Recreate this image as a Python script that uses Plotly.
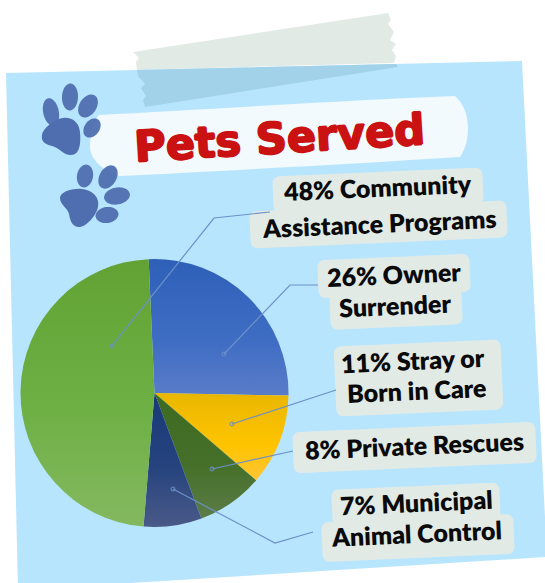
import math
import plotly.graph_objects as go

W, H = 545, 583

categories = ["Owner Surrender", "Stray or Born in Care", "Private Rescues",
              "Municipal Animal Control", "Community Assistance Programs"]
values = [26, 11, 8, 7, 48]
slice_colors = ["#4470c2", "#f7c000", "#4a7029", "#2f4a80", "#6fae45"]
slice_gradients = [
    [("0%", "#2e60b8"), ("60%", "#3f6dc4"), ("100%", "#5a7cc8")],
    [("0%", "#e9b600"), ("60%", "#ffc400"), ("100%", "#ffc535")],
    [("0%", "#3d6a20"), ("60%", "#46702a"), ("100%", "#5c7c48")],
    [("0%", "#183a78"), ("55%", "#26437e"), ("100%", "#4a5a88")],
    [("0%", "#62a234"), ("55%", "#6eb044"), ("100%", "#84b860")],
]
title_text = "Pets Served"
label_lines = [
    ("48% Community", 377, 187), ("Assistance Programs", 379, 223),
    ("26% Owner", 394, 274), ("Surrender", 395, 305),
    ("11% Stray or", 413, 360), ("Born in Care", 416, 390),
    ("8% Private Rescues", 414, 445),
    ("7% Municipal", 416, 502), ("Animal Control", 416, 533),
]

X = lambda x: x / W
Y = lambda y: 1 - y / H
shapes = []


def poly(pts, fill, opacity=1, layer="below"):
    d = "M " + " L ".join(f"{X(a):.5f} {Y(b):.5f}" for a, b in pts) + " Z"
    shapes.append(dict(type="path", xref="paper", yref="paper", path=d, fillcolor=fill,
                       line=dict(width=0), opacity=opacity, layer=layer))


def ellipse(cx, cy, rx, ry, rot, fill, opacity=1):
    r = math.radians(rot)
    pts = []
    for i in range(48):
        t = 2 * math.pi * i / 48
        a, b = rx * math.cos(t), ry * math.sin(t)
        pts.append((cx + a * math.cos(r) - b * math.sin(r), cy + a * math.sin(r) + b * math.cos(r)))
    poly(pts, fill, opacity)


def rrect(x0, y0, x1, y1, rad, ang, fill):
    cx, cy = (x0 + x1) / 2, (y0 + y1) / 2
    w, h = (x1 - x0) / 2, (y1 - y0) / 2
    r = math.radians(ang)
    pts = []
    corners = [(w - rad, -h + rad, -90), (w - rad, h - rad, 0), (-w + rad, h - rad, 90), (-w + rad, -h + rad, 180)]
    for ax, ay, st in corners:
        for k in range(7):
            t = math.radians(st + 15 * k)
            a, b = ax + rad * math.cos(t), ay + rad * math.sin(t)
            pts.append((cx + a * math.cos(r) - b * math.sin(r), cy + a * math.sin(r) + b * math.cos(r)))
    poly(pts, fill)


def bez(segs, fill, opacity=1):
    d = f"M {X(segs[0][0]):.5f} {Y(segs[0][1]):.5f}"
    for s in segs[1:]:
        d += " C " + " ".join(f"{X(s[i]):.5f} {Y(s[i+1]):.5f}" for i in (0, 2, 4))
    d += " Z"
    shapes.append(dict(type="path", xref="paper", yref="paper", path=d, fillcolor=fill,
                       line=dict(width=0), opacity=opacity, layer="below"))


TAPE_TOP, TAPE_LOW, PAPER, BAND, PAW, BOX = "#e2eae6", "#a1d2e9", "#b8e5fe", "#f3fafd", "#4f6eb0", "#e2eae6"

# tape part above the paper
poly([(133, 52), (388, 13), (391, 20), (388, 24), (394, 32), (390, 40), (396, 44), (392, 50), (396, 56),
      (394, 63), (137, 70), (136, 62), (139, 58)], TAPE_TOP)
# paper
poly([(6, 73), (522, 61), (547, 557), (18, 590)], PAPER)
# tape part on the paper
poly([(137, 70), (396, 64), (398, 67), (145, 107), (143, 100), (146, 96), (141, 88), (145, 84), (138, 76)], TAPE_LOW)
# title band
bez([(99, 115), (200, 110, 350, 100, 455, 96), (464, 104, 468, 116, 468, 128), (468, 140, 465, 150, 460, 157),
     (350, 164, 220, 171, 120, 176), (105, 172, 90, 160, 90, 147), (90, 135, 92, 122, 99, 115)], BAND)
# paws
for cx, cy, rx, ry, rot in [(51, 112, 7.8, 14, -12), (70, 97, 8, 13.5, 2), (88, 106, 8.5, 12.5, 33), (92, 128, 7.5, 10.5, 35)]:
    ellipse(cx, cy, rx, ry, rot, PAW, .95)
bez([(63, 118), (72, 117, 79, 122, 80, 132), (81, 143, 80, 155, 71, 155), (63, 155, 60, 148, 52, 146),
     (44, 144, 41, 141, 42, 135), (43, 128, 55, 119, 63, 118)], PAW)
for cx, cy, rx, ry, rot in [(85, 176, 8, 11.5, 10), (108, 177, 8.5, 12.5, 30), (117, 196, 13, 8.5, -10), (107, 215, 11.5, 8, -8)]:
    ellipse(cx, cy, rx, ry, rot, PAW, .95)
bez([(60, 198), (60, 192, 72, 188, 82, 189), (93, 190, 100, 198, 98, 207), (96, 216, 86, 227, 79, 227),
     (72, 227, 70, 220, 69, 214), (68, 208, 60, 205, 60, 198)], PAW)

# label plates
for b in [(273, 172, 483, 209), (250, 206, 507, 243),
          (318, 257, 470, 295), (330, 290, 462, 327),
          (335, 343, 502, 413),
          (293, 427, 536, 468),
          (332, 486, 500, 523), (322, 518, 514, 558)]:
    rrect(*b, 7, -2.5, BOX)

# leader lines
leaders = [
    [(112, 346), (214, 218), (270, 212)],
    [(224, 354), (290, 285), (318, 285)],
    [(232, 424), (336, 390)],
    [(212, 469), (293, 451)],
    [(173, 489), (275, 543), (313, 532)],
]
for ln in leaders:
    d = "M " + " L ".join(f"{X(a):.5f} {Y(b):.5f}" for a, b in ln)
    shapes.append(dict(type="path", xref="paper", yref="paper", path=d,
                       line=dict(color="#6d90c8", width=1.2), layer="above"))
    a, b = ln[0]
    shapes.append(dict(type="circle", xref="paper", yref="paper", x0=X(a - 2), x1=X(a + 2), y0=Y(b + 2), y1=Y(b - 2),
                       line=dict(color="#6d90c8", width=1), fillcolor="rgba(0,0,0,0)", layer="above"))

cx, cy, rad = 154.5, 393, 134
pie = go.Pie(labels=categories, values=values, sort=False, direction="clockwise", rotation=-2.5,
             marker=dict(colors=slice_colors, line=dict(width=0)), textinfo="none", showlegend=False,
             domain=dict(x=[X(cx - rad), X(cx + rad)], y=[Y(cy + rad), Y(cy - rad)]))

annotations = [dict(text=title_text, x=X(279), y=Y(138), xref="paper", yref="paper", showarrow=False,
                    textangle=-3.5, xanchor="center", yanchor="middle",
                    font=dict(family="DejaVu Sans", size=43, color="#cb1212", weight=800,
                              shadow="1px 0 0 #cb1212, -1px 0 0 #cb1212, 0 1px 0 #cb1212, 0 -1px 0 #cb1212"))]
for txt, a, b in label_lines:
    annotations.append(dict(text=txt, x=X(a), y=Y(b), xref="paper", yref="paper", showarrow=False,
                            textangle=-2.5, xanchor="center", yanchor="middle",
                            font=dict(family="Lato", size=25, color="#0a0a0a", weight=800)))

fig = go.Figure(pie)
fig.update_layout(width=W, height=H, margin=dict(l=0, r=0, t=0, b=0), paper_bgcolor="white",
                  shapes=shapes, annotations=annotations)

stops = "[" + ",".join("[" + ",".join(f"['{o}','{c}']" for o, c in g) + "]" for g in slice_gradients) + "]"
post = """
document.body.style.margin='0';
var gd=document.getElementById('{plot_id}');
var grads=%s;
function paint(){
  var svg=gd.querySelector('svg.main-svg'); var NS='http://www.w3.org/2000/svg';
  var defs=svg.querySelector('defs')||svg.insertBefore(document.createElementNS(NS,'defs'),svg.firstChild);
  gd.querySelectorAll('.slice path.surface').forEach(function(p,i){
    var id='slicegrad'+i;
    if(!document.getElementById(id)){
      var g=document.createElementNS(NS,'linearGradient');g.setAttribute('id',id);
      g.setAttribute('x1','0');g.setAttribute('y1','0');g.setAttribute('x2','0');g.setAttribute('y2','1');
      grads[i].forEach(function(s){var e=document.createElementNS(NS,'stop');e.setAttribute('offset',s[0]);e.setAttribute('stop-color',s[1]);g.appendChild(e);});
      defs.appendChild(g);
    }
    p.style.fill='url(#'+id+')';
  });
}
paint();
""" % stops
fig.write_html("out.html", post_script=post, config=dict(displayModeBar=False))
